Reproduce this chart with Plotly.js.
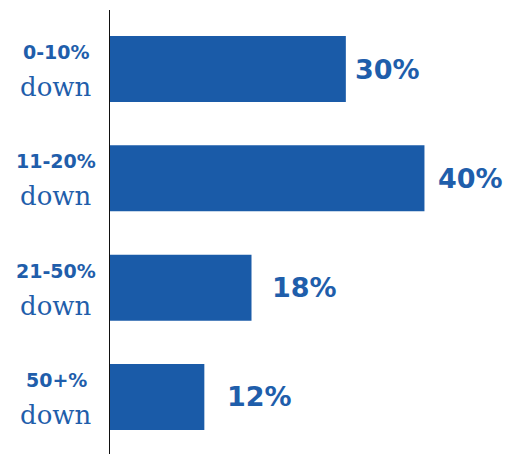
<!DOCTYPE html>
<html><head><meta charset="utf-8">
<script src="https://cdn.plot.ly/plotly-3.0.1.min.js"></script>
<style>html,body{margin:0;padding:0;background:#fff;}</style>
</head><body>
<div id="chart" style="width:507px;height:454px;"></div>
<script>
var categories = ["0-10%", "11-20%", "21-50%", "50+%"];
var subLabels = ["down", "down", "down", "down"];
var values = [30, 40, 18, 12];
var valueLabels = ["30%", "40%", "18%", "12%"];

var blue = "#1a5ba8";
var textBlue = "#1f5eab";
// styling: horizontal gap (px) between bar end and its value label
var labelGap = [7, 12, 18, 21];

var trace = {
  type: "bar",
  orientation: "h",
  y: categories,
  x: values,
  marker: {color: blue},
  hoverinfo: "none"
};

var annotations = [];
categories.forEach(function(c, i) {
  annotations.push({
    xref: "paper", yref: "y", x: -0.135, y: c,
    text: c, showarrow: false, xanchor: "center", yanchor: "middle",
    yshift: 17,
    font: {family: "DejaVu Sans", size: 19, color: textBlue, weight: "bold"}
  });
  annotations.push({
    xref: "paper", yref: "y", x: -0.135, y: c,
    text: subLabels[i], showarrow: false, xanchor: "center", yanchor: "middle",
    yshift: -18,
    font: {family: "DejaVu Serif", size: 26, color: textBlue}
  });
  annotations.push({
    xref: "x", yref: "y", x: values[i], y: c,
    text: valueLabels[i], showarrow: false, xanchor: "left", yanchor: "middle",
    xshift: labelGap[i],
    font: {family: "DejaVu Sans", size: 27, color: textBlue, weight: "bold"}
  });
});

var layout = {
  width: 507, height: 454,
  margin: {l: 110, r: 0, t: 10, b: 0},
  paper_bgcolor: "#fff", plot_bgcolor: "#fff",
  showlegend: false,
  bargap: 0.396,
  xaxis: {range: [0, 50.5], visible: false, fixedrange: true},
  yaxis: {
    type: "category", range: [3.522, -0.54],
    showticklabels: false, ticks: "",
    showgrid: false, zeroline: false,
    showline: true, linecolor: "#111", linewidth: 1.2
  },
  annotations: annotations
};

Plotly.newPlot("chart", [trace], layout, {displayModeBar: false, staticPlot: true});
</script>
</body></html>
